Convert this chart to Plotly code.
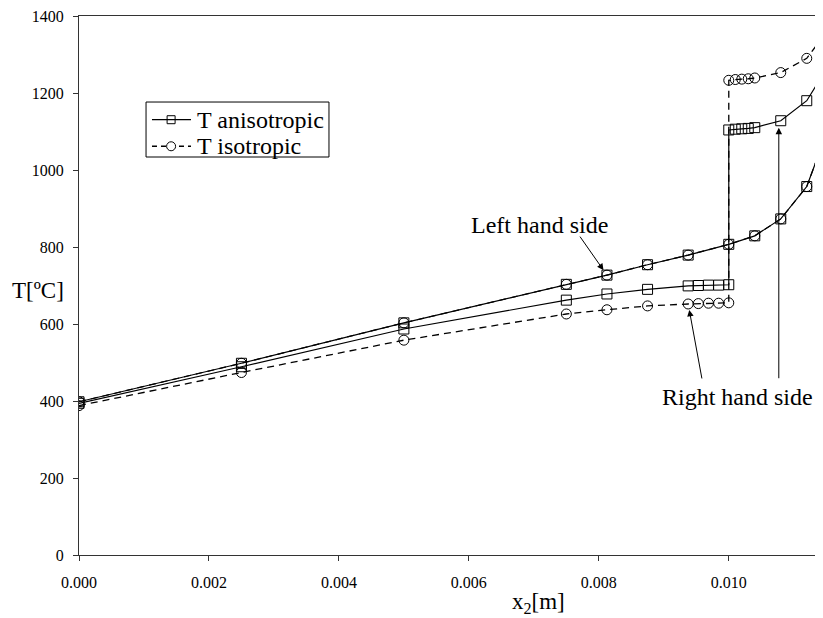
import plotly.graph_objects as go

# ---- data ----
x_left = [0.0, 0.0025, 0.005, 0.0075, 0.008125, 0.00875, 0.009375,
          0.00953125, 0.0096875, 0.00984375, 0.01]
x_right = [0.01, 0.0101, 0.0102, 0.0103, 0.0104, 0.0108, 0.0112, 0.0116]
x_lhs = [0.0, 0.0025, 0.005, 0.0075, 0.008125, 0.00875, 0.009375, 0.01,
         0.0104, 0.0108, 0.0112, 0.0116]

t_lhs = [398, 498, 603, 703, 727, 754, 779, 807, 829, 873, 957, 1140]
t_aniso_left = [394, 489, 587, 662, 678, 690, 699, 700, 701, 701, 702]
t_aniso_right = [1104, 1106, 1107, 1108, 1110, 1128, 1180, 1290]
t_iso_left = [388, 474, 558, 626, 637, 647, 652, 653, 654, 654, 655]
t_iso_right = [1233, 1235, 1236, 1237, 1239, 1253, 1290, 1380]

y_ticks = [0, 200, 400, 600, 800, 1000, 1200, 1400]
x_ticks = [0.000, 0.002, 0.004, 0.006, 0.008, 0.010]
legend_names = ["T anisotropic", "T isotropic"]

FONT = "Liberation Serif, Times New Roman, serif"
DASH = "7px,5px"

fig = go.Figure()

# anisotropic: right-hand side path (left part + jump + right part)
fig.add_trace(go.Scatter(
    x=x_left + x_right, y=t_aniso_left + t_aniso_right,
    mode="lines+markers", name=legend_names[0], showlegend=False,
    line=dict(color="black", width=1.2),
    marker=dict(symbol="square-open", size=10, color="black", line=dict(width=1)),
))
# isotropic: right-hand side path
fig.add_trace(go.Scatter(
    x=x_left + x_right, y=t_iso_left + t_iso_right,
    mode="lines+markers", name=legend_names[1], showlegend=False,
    line=dict(color="black", width=1.3, dash=DASH),
    marker=dict(symbol="circle-open", size=10, color="black", line=dict(width=1)),
))
# left-hand side path (shared by both)
fig.add_trace(go.Scatter(
    x=x_lhs, y=t_lhs, mode="lines+markers", showlegend=False,
    line=dict(color="black", width=1.2),
    marker=dict(symbol="square-open", size=10, color="black", line=dict(width=1)),
))
fig.add_trace(go.Scatter(
    x=x_lhs, y=t_lhs, mode="lines+markers", showlegend=False,
    line=dict(color="black", width=1.2, dash=DASH),
    marker=dict(symbol="circle-open", size=10, color="black", line=dict(width=1)),
))

# ---- legend box drawn in paper coordinates ----
LX0, LX1, LY0, LY1 = 0.0901, 0.336, 0.7384, 0.8404
ROW_Y = [0.8076, 0.7583]
SAMPLE_X0, SAMPLE_X1, SAMPLE_XC = 0.0981, 0.1505, 0.1238
TEXT_X = 0.1555

shapes = [
    dict(type="rect", xref="paper", yref="paper", x0=LX0, x1=LX1, y0=LY0, y1=LY1,
         line=dict(color="black", width=1), fillcolor="white", layer="above"),
    dict(type="line", xref="paper", yref="paper", x0=SAMPLE_X0, x1=SAMPLE_X1,
         y0=ROW_Y[0], y1=ROW_Y[0], line=dict(color="black", width=1.2), layer="above"),
    dict(type="rect", xref="paper", yref="paper", xsizemode="pixel", ysizemode="pixel",
         xanchor=SAMPLE_XC, yanchor=ROW_Y[0], x0=-4, x1=4, y0=-4, y1=4,
         line=dict(color="black", width=1), fillcolor="rgba(0,0,0,0)", layer="above"),
    dict(type="line", xref="paper", yref="paper", x0=SAMPLE_X0, x1=SAMPLE_X1,
         y0=ROW_Y[1], y1=ROW_Y[1], line=dict(color="black", width=1.6, dash="5px,4px"),
         layer="above"),
    dict(type="circle", xref="paper", yref="paper", xsizemode="pixel", ysizemode="pixel",
         xanchor=SAMPLE_XC, yanchor=ROW_Y[1], x0=-4.5, x1=4.5, y0=-4.5, y1=4.5,
         line=dict(color="black", width=1), fillcolor="white", layer="above"),
]

annotations = [
    dict(x=TEXT_X, y=ROW_Y[0], xref="paper", yref="paper", text=legend_names[0],
         xanchor="left", yanchor="middle", showarrow=False,
         font=dict(family=FONT, size=24, color="black")),
    dict(x=TEXT_X, y=ROW_Y[1], xref="paper", yref="paper", text=legend_names[1],
         xanchor="left", yanchor="middle", showarrow=False,
         font=dict(family=FONT, size=24, color="black")),
    dict(x=0.00709, y=857, xref="x", yref="y", text="Left hand side",
         showarrow=False, font=dict(family=FONT, size=24, color="black")),
    dict(x=x_lhs[4], y=t_lhs[4], xref="x", yref="y", text="",
         showarrow=True, ax=-28, ay=-40, arrowhead=2, arrowsize=1.3,
         arrowwidth=1, arrowcolor="black", standoff=6),
    dict(x=0.01013, y=410, xref="x", yref="y", text="Right hand side",
         showarrow=False, font=dict(family=FONT, size=24, color="black")),
    dict(x=x_left[6], y=t_iso_left[6], xref="x", yref="y", text="",
         showarrow=True, ax=14, ay=76, arrowhead=2, arrowsize=1.3,
         arrowwidth=1, arrowcolor="black", standoff=6),
    dict(x=0.01077, y=t_aniso_right[5], xref="x", yref="y", text="",
         showarrow=True, ax=0, ay=259, arrowhead=2, arrowsize=1.3,
         arrowwidth=1, arrowcolor="black", standoff=7),
    dict(x=-0.0551, y=0.49, xref="paper", yref="paper", text="T[ºC]",
         xanchor="center", yanchor="middle",
         showarrow=False, font=dict(family=FONT, size=23, color="black")),
    dict(x=0.617, y=-0.089, xref="paper", yref="paper", text="x<sub>2</sub>[m]",
         xanchor="center", yanchor="middle",
         showarrow=False, font=dict(family=FONT, size=23, color="black")),
]

# page body has an 8px margin: shrink the figure so the plot lands where the reference has it
fig.update_layout(
    width=815, height=610,
    margin=dict(l=71, r=0, t=8, b=63),
    plot_bgcolor="white", paper_bgcolor="white",
    font=dict(family=FONT, color="black", size=16),
    showlegend=False,
    shapes=shapes,
    annotations=annotations,
    xaxis=dict(range=[0, 0.01145], tickvals=x_ticks, tickformat=".3f",
               showline=True, linecolor="#333", linewidth=1, mirror=True,
               ticks="outside", ticklen=5, tickcolor="#333",
               showgrid=False, zeroline=False, ticklabelstandoff=8,
               automargin=False, ticklabeloverflow="allow",
               tickfont=dict(family=FONT, size=16, color="black")),
    yaxis=dict(range=[0, 1400], tickvals=y_ticks,
               showline=True, linecolor="#333", linewidth=1,
               ticks="outside", ticklen=5, tickcolor="#333",
               showgrid=False, zeroline=False, ticklabelstandoff=6,
               automargin=False, ticklabeloverflow="allow",
               tickfont=dict(family=FONT, size=16, color="black")),
)

fig.write_html("out.html")
